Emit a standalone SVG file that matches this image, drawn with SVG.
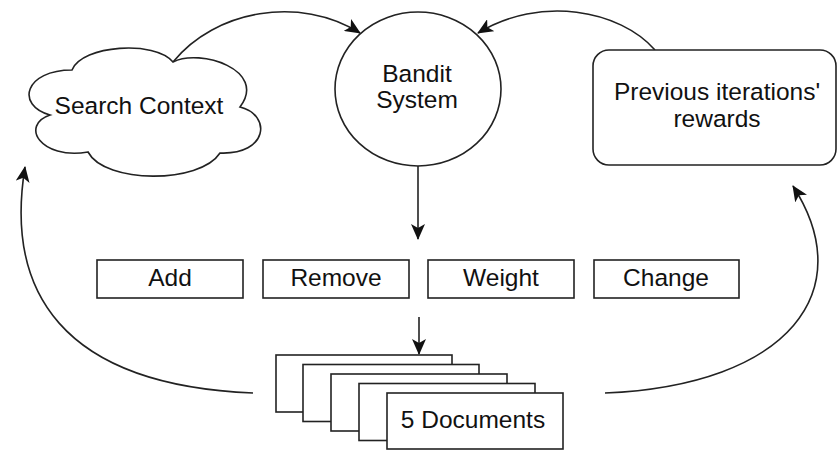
<svg xmlns="http://www.w3.org/2000/svg" width="838" height="451" viewBox="0 0 838 451">
<style>
.s{fill:#fff;stroke:#222;stroke-width:1.6}
.t{font-family:"Liberation Sans",Arial,sans-serif;font-size:24.5px;fill:#111;text-anchor:middle}
.c{fill:none;stroke:#222;stroke-width:1.6}
</style>
<defs>
<marker id="ah" markerWidth="16" markerHeight="14" refX="15" refY="7" orient="auto" markerUnits="userSpaceOnUse">
<path d="M0,0 L16,7 L0,14 L4,7 Z" fill="#111"/>
</marker>
</defs>
<rect width="838" height="451" fill="#fff"/>
<g id="connectors">
<path class="c" d="M173,62 C215,10 300,-5 360,33" marker-end="url(#ah)"/>
<path class="c" d="M655,50 C620,10 540,-5 478,33" marker-end="url(#ah)"/>
<path class="c" d="M418,166 L418,239" marker-end="url(#ah)"/>
<path class="c" d="M419,317 L419,354" marker-end="url(#ah)"/>
<path class="c" d="M253,393 C60,385 5,290 25,167" marker-end="url(#ah)"/>
<path class="c" d="M605,393 C790,385 860,290 793,186" marker-end="url(#ah)"/>
</g>
<g id="search-context">
<path class="s" d="M72,70 C82,45 155,40 173,62 C200,48 268,70 240,107 C272,115 268,155 220,153 C200,184 105,184 88,152 C40,160 20,125 50,115 C15,105 25,70 72,70 Z"/>
<text class="t" x="139" y="114">Search Context</text>
</g>
<g id="bandit-system">
<ellipse class="s" cx="418" cy="89" rx="83" ry="77"/>
<text class="t" x="417" y="82">Bandit</text>
<text class="t" x="417" y="108">System</text>
</g>
<g id="previous-rewards">
<rect class="s" x="593" y="50" width="243" height="115" rx="16"/>
<text class="t" x="717" y="100">Previous iterations'</text>
<text class="t" x="717" y="127">rewards</text>
</g>
<g id="add">
<rect class="s" x="97" y="260" width="146" height="38"/>
<text class="t" x="170" y="286">Add</text>
</g>
<g id="remove">
<rect class="s" x="263" y="260" width="146" height="38"/>
<text class="t" x="336" y="286">Remove</text>
</g>
<g id="weight">
<rect class="s" x="428" y="260" width="146" height="38"/>
<text class="t" x="501" y="286">Weight</text>
</g>
<g id="change">
<rect class="s" x="594" y="260" width="145" height="38"/>
<text class="t" x="666" y="286">Change</text>
</g>
<g id="documents">
<rect class="s" x="276" y="355" width="176" height="57"/>
<rect class="s" x="303" y="364.5" width="176" height="57"/>
<rect class="s" x="331" y="374" width="176" height="57"/>
<rect class="s" x="359" y="383.5" width="176" height="57"/>
<rect class="s" x="387" y="393" width="176" height="56"/>
<text class="t" x="473" y="428">5 Documents</text>
</g>
</svg>
